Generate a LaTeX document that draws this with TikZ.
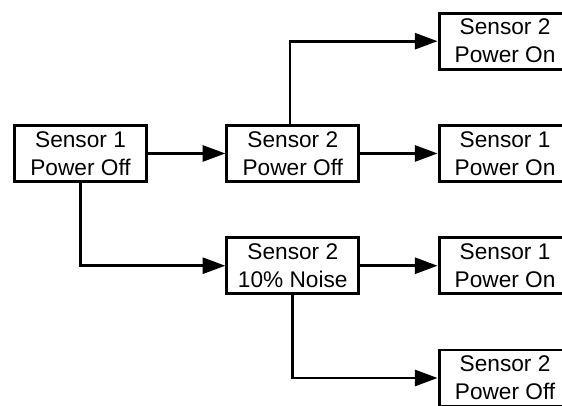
\documentclass[tikz,border=0pt]{standalone}
\usepackage{fontspec}
\setmainfont{Liberation Sans}
\usetikzlibrary{positioning,arrows.meta}

\begin{document}
\begin{tikzpicture}[
        node distance=40pt and 58pt,
        box/.style={draw, line width=2.2pt, minimum width=99pt,
                    minimum height=42pt, align=center,
                    font=\fontsize{17}{21}\selectfont},
        arr/.style={line width=2pt, -{Triangle[length=17pt,width=12pt]}}
    ]
        \useasboundingbox (0,0) rectangle (421.5pt,-304.5pt);
        \clip (0,0) rectangle (421.5pt,-304.5pt);

        \node[box] (s1off) at (60.4pt,-115.1pt) {Sensor 1\\Power Off};
        \node[box, right=of s1off]   (s2off)   {Sensor 2\\Power Off};
        \node[box, below=of s2off]   (s2noise) {Sensor 2\\10\% Noise};
        \node[box, right=of s2off]   (s1onA)   {Sensor 1\\Power On};
        \node[box, above=of s1onA]   (s2on)    {Sensor 2\\Power On};
        \node[box, right=of s2noise] (s1onB)   {Sensor 1\\Power On};
        \node[box, below=of s1onB]   (s2offB)  {Sensor 2\\Power Off};

        \draw[arr] (s1off) -- (s2off);
        \draw[arr] (s1off.south) |- (s2noise.west);
        \draw[arr] (s2off) -- (s1onA);
        \draw[arr] ([xshift=-2pt]s2off.north) |- (s2on.west);
        \draw[arr] (s2noise) -- (s1onB);
        \draw[arr] (s2noise.south) |- (s2offB.west);
    \end{tikzpicture}
\end{document}
